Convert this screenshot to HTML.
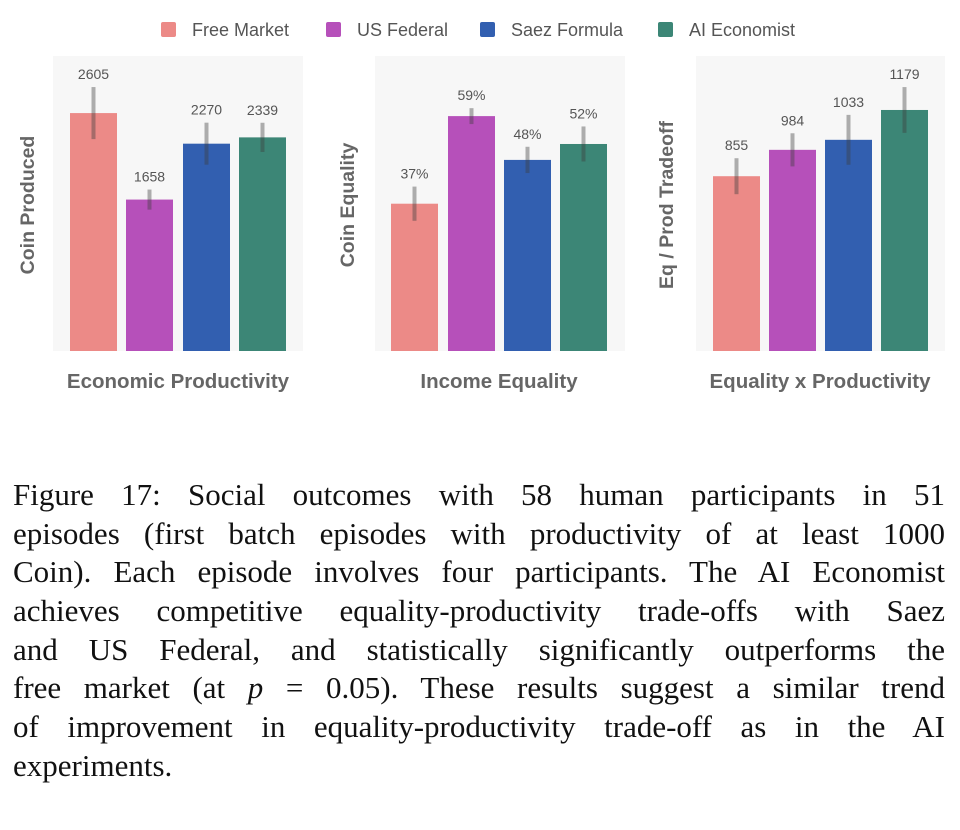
<!DOCTYPE html>
<html><head><meta charset="utf-8">
<style>
body{margin:0;background:#fff;width:960px;height:830px;overflow:hidden;font-family:"Liberation Sans",sans-serif;}
#cap{position:absolute;left:13px;top:476px;width:932px;font-family:"Liberation Serif",serif;font-size:31px;color:#111;}
#cap div{height:38.7px;line-height:38.7px;text-align:justify;text-align-last:justify;white-space:nowrap;}
#cap div.last{text-align-last:left;}
</style></head><body>
<svg id="chart" width="960" height="460" style="position:absolute;left:0;top:0"></svg>
<div id="cap">
<div>Figure 17: Social outcomes with 58 human participants in 51</div>
<div>episodes (first batch episodes with productivity of at least 1000</div>
<div>Coin). Each episode involves four participants. The AI Economist</div>
<div>achieves competitive equality-productivity trade-offs with Saez</div>
<div>and US Federal, and statistically significantly outperforms the</div>
<div>free market (at <i>p</i> = 0.05). These results suggest a similar trend</div>
<div>of improvement in equality-productivity trade-off as in the AI</div>
<div class="last">experiments.</div>
</div>
<script>
const categories=["Free Market","US Federal","Saez Formula","AI Economist"];
const colors=["#ec8a87","#b650ba","#325fb0","#3c8676"];
const prodValues=[2605,1658,2270,2339];
const prodErr=[285,110,230,160];
const prodLabels=["2605","1658","2270","2339"];
const eqValues=[37,59,48,52];
const eqErr=[4.3,2,3.3,4.4];
const eqLabels=["37%","59%","48%","52%"];
const tradeValues=[855,984,1033,1179];
const tradeErr=[88,81,122,112];
const tradeLabels=["855","984","1033","1179"];
const NS="http://www.w3.org/2000/svg";
const svg=document.getElementById('chart');
function el(t,a){const e=document.createElementNS(NS,t);for(const k in a)e.setAttribute(k,a[k]);return e;}
const legX=[161,326,480,658];
categories.forEach((c,i)=>{
  const g=el('g',{});
  
  
  g.appendChild(el('rect',{x:legX[i],y:22,width:15,height:15,rx:2,fill:colors[i]}));
  const t=el('text',{x:legX[i]+31,y:36,'font-size':18,fill:'#555'});t.textContent=c;g.appendChild(t);
  svg.appendChild(g);
});
const panels=[
 {name:'productivity',x0:53,x1:303,max:3230,vals:prodValues,err:prodErr,labels:prodLabels,bars:[70,126,183,239],ytitle:'Coin Produced',yx:34,xtitle:'Economic Productivity',xt:178},
 {name:'equality',x0:375,x1:625,max:74.1,vals:eqValues,err:eqErr,labels:eqLabels,bars:[391,448,504,560],ytitle:'Coin Equality',yx:354,xtitle:'Income Equality',xt:499},
 {name:'tradeoff',x0:696,x1:945,max:1443,vals:tradeValues,err:tradeErr,labels:tradeLabels,bars:[713,769,825,881],ytitle:'Eq / Prod Tradeoff',yx:673,xtitle:'Equality x Productivity',xt:820}
];
const plotTop=56,plotBase=351,bw=47;
panels.forEach(p=>{
  const y=v=>plotBase-(v/p.max)*(plotBase-plotTop);
  const g=el('g',{});
  
  
  const bg=el('rect',{x:p.x0,y:plotTop,width:p.x1-p.x0,height:plotBase-plotTop,fill:'#f7f7f7'});
  
  
  g.appendChild(bg);
  p.vals.forEach((v,i)=>{
    const x=p.bars[i];
    const r=el('rect',{x:x,y:y(v),width:bw,height:plotBase-y(v),fill:colors[i]});
    
    
    g.appendChild(r);
    const e=el('line',{x1:x+bw/2,x2:x+bw/2,y1:y(v+p.err[i]),y2:y(v-p.err[i]),stroke:'rgba(60,60,60,0.4)','stroke-width':4});
    
    
    g.appendChild(e);
    const t=el('text',{x:x+bw/2,y:y(v+p.err[i])-8,'text-anchor':'middle','font-size':14,fill:'#555'});
    
    
    t.textContent=p.labels[i];g.appendChild(t);
  });
  const yt=el('text',{x:0,y:0,transform:`translate(${p.yx},205) rotate(-90)`,'text-anchor':'middle','font-size':19.5,'font-weight':'bold',fill:'#666'});
  
  
  yt.textContent=p.ytitle;g.appendChild(yt);
  const xt=el('text',{x:p.xt,y:388,'text-anchor':'middle','font-size':20.5,'font-weight':'bold',fill:'#666'});
  
  
  xt.textContent=p.xtitle;g.appendChild(xt);
  svg.appendChild(g);
});
</script>
</body></html>
